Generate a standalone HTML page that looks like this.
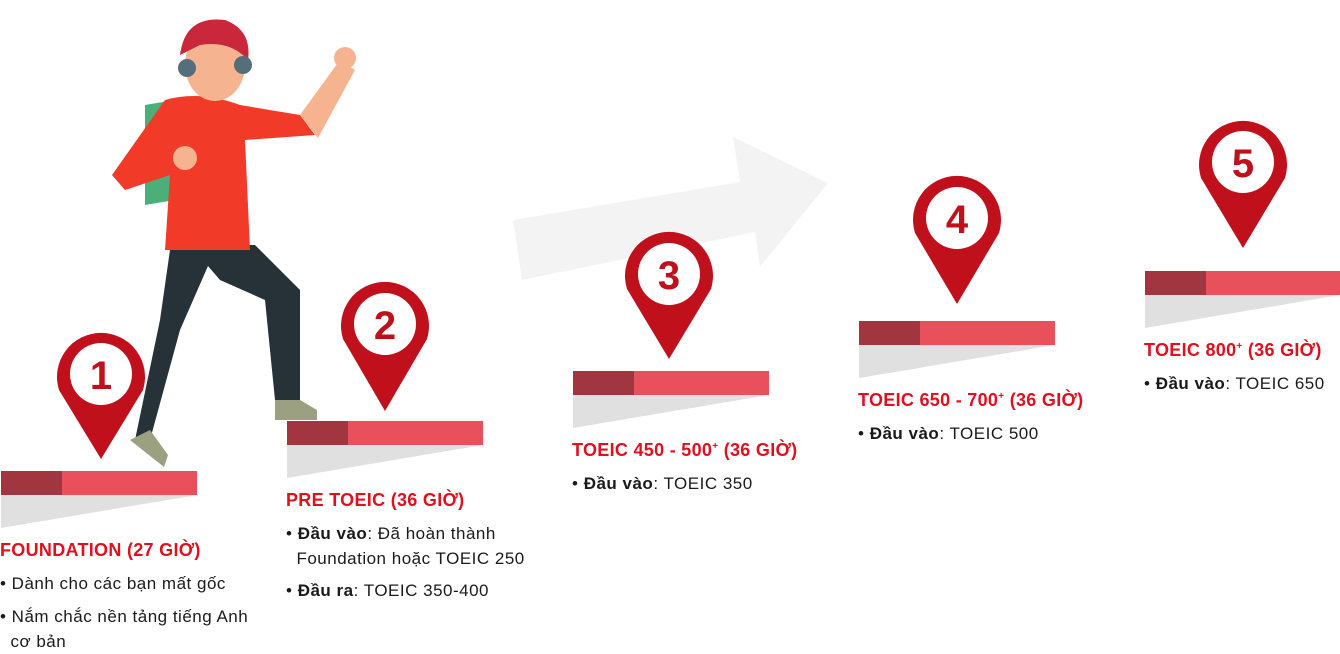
<!DOCTYPE html>
<html><head><meta charset="utf-8"><style>
body{margin:0;width:1340px;height:650px;background:#fff;position:relative;overflow:hidden;font-family:"Liberation Sans",sans-serif}
.t{position:absolute;color:#e0101f;font-weight:bold;font-size:18px;letter-spacing:0.3px;white-space:nowrap}
.b{position:absolute;color:#1a1a1a;font-size:17px;letter-spacing:0.5px;line-height:25px;white-space:nowrap}
.b b{font-weight:bold}
sup{font-size:10px}
</style></head><body>
<svg width="1340" height="650" style="position:absolute;left:0;top:0">
<polygon points="513,220 740,182 733,137 828,183 760,267 755,232 522,280" fill="#f3f3f3"/>
<g id="steps">
<polygon points="1,495 197,495 1,528" fill="#e0e0e0"/><rect x="1" y="471" width="196" height="24" fill="#e8515c"/><rect x="1" y="471" width="61" height="24" fill="#a23640"/>
<polygon points="287,445 483,445 287,478" fill="#e0e0e0"/><rect x="287" y="421" width="196" height="24" fill="#e8515c"/><rect x="287" y="421" width="61" height="24" fill="#a23640"/>
<polygon points="573,395 769,395 573,428" fill="#e0e0e0"/><rect x="573" y="371" width="196" height="24" fill="#e8515c"/><rect x="573" y="371" width="61" height="24" fill="#a23640"/>
<polygon points="859,345 1055,345 859,378" fill="#e0e0e0"/><rect x="859" y="321" width="196" height="24" fill="#e8515c"/><rect x="859" y="321" width="61" height="24" fill="#a23640"/>
<polygon points="1145,295 1340,295 1145,328" fill="#e0e0e0"/><rect x="1145" y="271" width="195" height="24" fill="#e8515c"/><rect x="1145" y="271" width="61" height="24" fill="#a23640"/>
</g>
<g fill="#c0101c">
<path d="M59,390 A44,44 0 1 1 143,390 L101,459 Z"/><circle cx="101" cy="374" r="31" fill="#fff"/>
<path d="M343,339 A44,44 0 1 1 427,339 L385,411 Z"/><circle cx="385" cy="324" r="31" fill="#fff"/>
<path d="M627,289 A44,44 0 1 1 711,289 L669,359 Z"/><circle cx="669" cy="274" r="31" fill="#fff"/>
<path d="M915,233 A44,44 0 1 1 999,233 L957,304 Z"/><circle cx="957" cy="218" r="31" fill="#fff"/>
<path d="M1201,178 A44,44 0 1 1 1285,178 L1243,248 Z"/><circle cx="1243" cy="162" r="31" fill="#fff"/>
</g>
<g fill="#c0101c" font-family="Liberation Sans" font-weight="bold" font-size="40" text-anchor="middle">
<text x="101" y="389">1</text><text x="385" y="339">2</text><text x="669" y="289">3</text><text x="957" y="233">4</text><text x="1243" y="177">5</text>
</g>
<!-- character -->
<polygon points="170,250 215,250 180,330 150,440 135,440 160,320" fill="#263238"/>
<polygon points="190,245 255,245 300,290 300,400 275,400 265,300 220,280" fill="#263238"/>
<path d="M130,440 l20,-10 l18,25 l-4,12 z" fill="#9aa080"/>
<path d="M275,400 h25 l17,10 v10 h-42 z" fill="#9aa080"/>
<path d="M145,105 l30,-5 l0,100 l-30,5 z" fill="#4caf7a"/>
<path d="M165,100 Q200,90 240,105 L300,115 L315,135 L245,140 L250,250 L165,250 L170,175 L125,190 L112,175 Z" fill="#f23a28"/>
<path d="M300,115 L340,60 L355,70 L318,138 Z" fill="#f5b48f"/>
<circle cx="345" cy="58" r="11" fill="#f5b48f"/>
<circle cx="185" cy="158" r="12" fill="#f5b48f"/>
<ellipse cx="215" cy="65" rx="30" ry="36" fill="#f5b48f"/>
<path d="M180,55 Q185,15 225,20 Q252,30 248,60 Q230,40 200,45 Z" fill="#c9283a"/>
<circle cx="187" cy="68" r="9" fill="#546e7a"/><circle cx="243" cy="65" r="9" fill="#546e7a"/>
</svg>
<div class="t" style="left:0;top:540px">FOUNDATION (27 GIỜ)</div>
<div class="b" style="left:0;top:571px">• Dành cho các bạn mất gốc</div>
<div class="b" style="left:0;top:604px">• Nắm chắc nền tảng tiếng Anh<br>&nbsp;&nbsp;cơ bản</div>
<div class="t" style="left:286px;top:490px">PRE TOEIC (36 GIỜ)</div>
<div class="b" style="left:286px;top:521px">• <b>Đầu vào</b>: Đã hoàn thành<br>&nbsp;&nbsp;Foundation hoặc TOEIC 250</div>
<div class="b" style="left:286px;top:578px">• <b>Đầu ra</b>: TOEIC 350-400</div>
<div class="t" style="left:572px;top:440px">TOEIC 450 - 500<sup>+</sup> (36 GIỜ)</div>
<div class="b" style="left:572px;top:471px">• <b>Đầu vào</b>: TOEIC 350</div>
<div class="t" style="left:858px;top:390px">TOEIC 650 - 700<sup>+</sup> (36 GIỜ)</div>
<div class="b" style="left:858px;top:421px">• <b>Đầu vào</b>: TOEIC 500</div>
<div class="t" style="left:1144px;top:340px">TOEIC 800<sup>+</sup> (36 GIỜ)</div>
<div class="b" style="left:1144px;top:371px">• <b>Đầu vào</b>: TOEIC 650</div>
</body></html>
